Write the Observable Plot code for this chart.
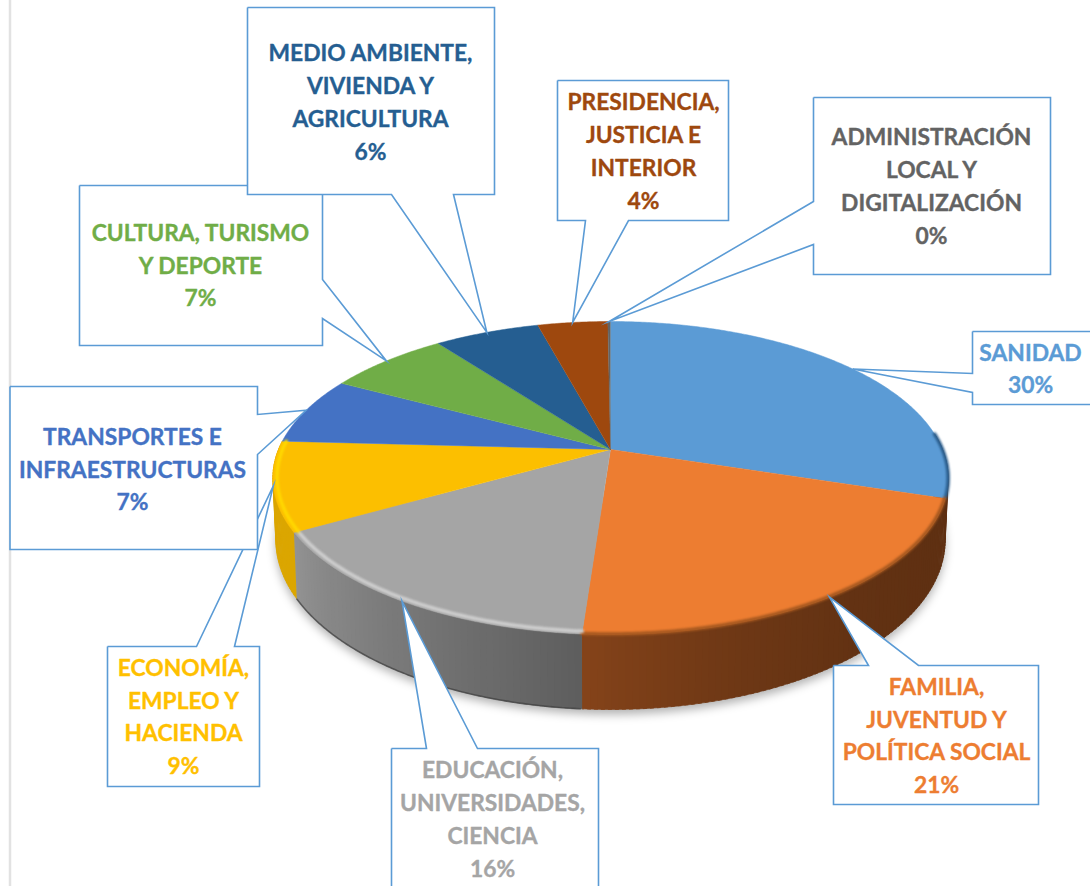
<!DOCTYPE html>
<html lang="es">
<head>
<meta charset="utf-8">
<title>Presupuesto por áreas</title>
<script src="https://cdn.jsdelivr.net/npm/d3@7"></script>
<script src="https://cdn.jsdelivr.net/npm/@observablehq/plot@0.6"></script>
<style>
  html, body { margin: 0; padding: 0; background: #fff; overflow: hidden; }
  svg { display: block; }
</style>
</head>
<body>
<div id="chart"></div>
<script>
// ---- data ----
const names = [
  "SANIDAD",
  "FAMILIA,\nJUVENTUD Y\nPOLÍTICA SOCIAL",
  "EDUCACIÓN,\nUNIVERSIDADES,\nCIENCIA",
  "ECONOMÍA,\nEMPLEO Y\nHACIENDA",
  "TRANSPORTES E\nINFRAESTRUCTURAS",
  "CULTURA, TURISMO\nY DEPORTE",
  "MEDIO AMBIENTE,\nVIVIENDA Y\nAGRICULTURA",
  "PRESIDENCIA,\nJUSTICIA E\nINTERIOR",
  "ADMINISTRACIÓN\nLOCAL Y\nDIGITALIZACIÓN"
];
const values = [30, 21.2, 15.6, 9.2, 7, 7, 6, 4, 0.15];

// ---- styles ----
const colors = ["#5b9bd5", "#ed7d31", "#a5a5a5", "#fcbf00", "#4472c4", "#70ad47", "#255e91", "#9e480e", "#636363"];
const textColors = ["#5b9bd5", "#ed7d31", "#a5a5a5", "#ffc000", "#4472c4", "#70ad47", "#255e91", "#9e480e", "#636363"];
const wallFrom = ["#5f3012", "#5f3012", "#5e5e5e", "#dba600", null, null, null, null, null];
const wallTo   = ["#5f3012", "#86441a", "#939393", "#dba600", null, null, null, null, null];
const wallEase = [1, 2.6, 1, 1, 1, 1, 1, 1, 1];
const rimColor = ["#2a5d8c", "#a4571f", "#cfcfcf", "#ffd800", null, null, null, null, null];
const rimRadius = [1, 0.998, 0.988, 0.988, 1, 1, 1, 1, 1];

// ---- callout layout: box edges, the side the pointer leaves from, pointer base ----
const boxLeft   = [972, 833, 391, 107, 9.5, 79, 247, 557, 813];
const boxTop    = [331, 665, 748, 646, 386, 185, 7, 80, 97];
const boxRight  = [1093, 1038, 598, 259, 257, 322, 494, 728, 1050];
const boxBottom = [404, 804, 892, 786, 549, 345, 194, 220, 274];
const boxSide   = ["left", "top", "top", "top", "right", "right", "bottom", "bottom", "left"];
const baseA     = [373, 868, 426, 196, 414, 279, 391, 585, 201];
const baseB     = [392, 918, 477, 234, 454, 318, 453, 628, 244];
const textX     = [1030, 936, 492, 183, 132, 200, 370, 643, 931];
const textY     = [366, 733, 816.5, 714, 466.5, 262.5, 99.5, 148.5, 183.5];

// ---- pie projection: a circle seen in perspective ----
const cx = 610, apexY = 449, spreadX = 332, spreadY = 151.3, persp = -0.182;
const topCY = 478, topRX = 338, topRY = 156;
const lowCY = 540, lowRX = 335, lowRY = 169;
function proj(theta, r = 1) {
  const u = r * Math.sin(theta), v = -r * Math.cos(theta), d = 1 + persp * v;
  return [cx + spreadX * u / d, apexY + spreadY * v / d];
}
function lower([x, y]) {
  return [cx + (x - cx) * lowRX / topRX, lowCY + (y - topCY) * lowRY / topRY];
}
const DEG = Math.PI / 180;
const arcs = d3.pie().sort(null).value(d => d)(values);
const range = (a, b, step) => {
  const out = d3.range(a, b, step);
  out.push(b);
  return out;
};

// top faces
const faces = arcs.flatMap((a, i) => [
  {id: i, p: [cx, apexY], c: colors[i]},
  ...range(a.startAngle, a.endAngle, 0.5 * DEG).map(t => ({id: i, p: proj(t), c: colors[i]}))
]);

// visible wall, one narrow strip per step; each strip overlaps the next so no seam shows
const wallMin = 84 * DEG, wallMax = 276 * DEG;
const walls = [];
arcs.forEach((a, i) => {
  if (!wallFrom[i]) return;
  const s = Math.max(a.startAngle, wallMin), e = Math.min(a.endAngle, wallMax);
  if (s >= e) return;
  const ts = range(s, e, 1 * DEG);
  for (let k = 0; k + 1 < ts.length; k++) {
    const f = (k + 0.5) / (ts.length - 1);
    const c = d3.interpolateRgb(wallFrom[i], wallTo[i])(f ** wallEase[i]);
    const id = `${i}-${k}`, p0 = proj(ts[k]), p1 = proj(Math.min(ts[k + 1] + 0.5 * DEG, e));
    [p0, p1, lower(p1), lower(p0)].forEach(p => walls.push({id, p, c}));
  }
});

// soft edge of the top face
const rims = arcs.flatMap((a, i) => {
  if (!rimColor[i]) return [];
  const s = Math.max(a.startAngle, wallMin), e = Math.min(a.endAngle, wallMax);
  return range(s, e, 0.5 * DEG).map(t => ({id: i, p: proj(t, rimRadius[i]), c: rimColor[i]}));
});

// shadow and dark foot of the wall
const footAngles = range(wallMin, wallMax, 0.5 * DEG);
const shadow = footAngles.map(t => {
  const [x, y] = lower(proj(t));
  return {x, y: y + 5};
});
const foot = range(184.3 * DEG, 240 * DEG, 0.5 * DEG).map(t => {
  const [x, y] = lower(proj(t));
  return {x, y};
});

// callouts: box plus a pointer ending at the middle of the slice's outer edge
const callouts = arcs.flatMap((a, i) => {
  const tip = proj((a.startAngle + a.endAngle) / 2);
  const l = boxLeft[i], t = boxTop[i], r = boxRight[i], b = boxBottom[i];
  const A = baseA[i], B = baseB[i];
  let pts;
  if (boxSide[i] === "top") pts = [[l, t], [A, t], tip, [B, t], [r, t], [r, b], [l, b], [l, t]];
  else if (boxSide[i] === "bottom") pts = [[l, t], [r, t], [r, b], [B, b], tip, [A, b], [l, b], [l, t]];
  else if (boxSide[i] === "left") pts = [[l, t], [r, t], [r, b], [l, b], [l, B], tip, [l, A], [l, t]];
  else pts = [[l, t], [r, t], [r, A], tip, [r, B], [r, b], [l, b], [l, t]];
  return pts.map(p => ({id: i, p}));
});

const labels = names.map((n, i) => ({
  text: `${n}\n${d3.format(".0f")(values[i])}%`,
  x: textX[i], y: textY[i], c: textColors[i]
}));

const px = d => d.p[0], py = d => d.p[1];

const chart = Plot.plot({
  width: 1090,
  height: 886,
  margin: 0,
  x: {domain: [0, 1090], range: [0, 1090], axis: null},
  y: {domain: [0, 886], range: [0, 886], axis: null},
  color: {type: "identity"},
  style: {background: "#fff"},
  marks: [
    Plot.ruleX([9.5], {stroke: "#e2e2e2", strokeWidth: 2.5}),
    Plot.line(shadow, {x: "x", y: "y", fill: "#000", fillOpacity: 0.3, stroke: "none", imageFilter: "blur(5px)"}),
    Plot.line(walls, {x: px, y: py, z: "id", fill: "c", stroke: "c", strokeWidth: 0.6}),
    Plot.line(foot, {x: "x", y: "y", stroke: "#3e3e3e", strokeWidth: 1.6, strokeOpacity: 0.7}),
    Plot.line(faces, {x: px, y: py, z: "id", fill: "c", stroke: "c", strokeWidth: 0.5}),
    Plot.line(rims, {x: px, y: py, z: "id", stroke: "c", strokeWidth: 3.5, imageFilter: "blur(1.2px)"}),
    Plot.line(callouts, {
      x: px, y: py, z: "id", fill: "#fff", stroke: "#5b9bd5", strokeWidth: 1.6,
      strokeLinejoin: "miter", strokeLinecap: "butt", strokeMiterlimit: 12
    }),
    Plot.text(labels, {
      x: "x", y: "y", text: "text", fill: "c", stroke: "c", strokeWidth: 0.35,
      fontFamily: "Lato", fontWeight: "bold", fontSize: 22.8, lineHeight: 1.44,
      textAnchor: "middle"
    })
  ]
});
document.getElementById("chart").append(chart);
</script>
</body>
</html>
